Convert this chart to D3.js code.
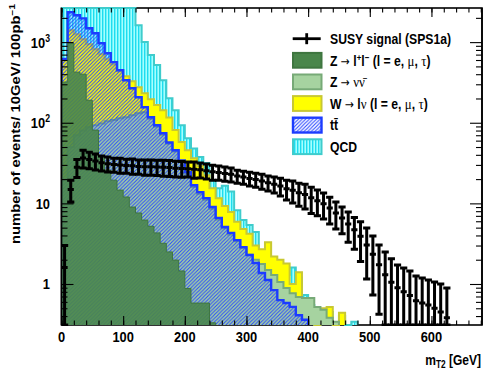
<!DOCTYPE html>
<html>
<head>
<meta charset="utf-8">
<script src="https://cdn.jsdelivr.net/npm/d3@7"></script>
<style>
  body { margin: 0; background: #fff; }
  svg { display: block; }
</style>
</head>
<body>
<svg id="chart" width="483" height="369"></svg>
<script>
// mT2 histograms, 10 GeV bins starting at 0
const binWidth = 10;

const qcd = [9000, 8500, 8000, 7500, 7000, 6500, 6000, 5200, 4600, 4000, 3500, 3000,
  1620, 1000, 690, 520, 337, 202, 143, 93, 64, 48, 37.5, 31.6, 19.4, 15.4, 16.5, 14, 8.2, 6.2,
  5.4, 4.4, 2.6, 2.2, 1.8, 1.6, 1.3, 1.6, 1.2, 0.73, 0.55, 0, 0.4, 0.45, 0, 0.4, 0, 0.34];

const wlnu = [600, 1403, 1253, 1086, 942, 817, 708, 614, 532, 436, 377, 328, 275, 233, 195,
  166, 143, 116, 81, 57.5, 45.7, 36.4, 29, 22.4, 15.4, 11.6, 9.3, 7.8, 5.9, 4.8, 4.2, 3.0, 2.7,
  3.3, 2.2, 2.0, 1.8, 1.0, 1.4, 0.58, 0.5, 0, 0.5, 0.52, 0, 0.44];

const znunu = [20, 50, 70, 80, 88, 93, 98, 104, 108, 114, 117, 124, 131, 135, 112, 89, 71, 55,
  44, 33, 23.5, 16, 13.2, 11.1, 8.6, 6.3, 4.9, 4.1, 3.4, 2.8, 2.3, 2.0, 1.77, 1.49, 1.29, 1.06,
  0.89, 0.77, 0.69, 0.67, 0.67, 0.52, 0.48, 0.38, 0.34];

const ttbar = [620, 2345, 2150, 1970, 1486, 1290, 967, 728, 565, 448, 337, 268, 207, 156, 117,
  93, 74, 57, 45.6, 34, 24.5, 16.8, 13.8, 11.6, 9.0, 6.6, 5.1, 4.3, 3.5, 2.87, 2.29, 1.82, 1.37,
  1.12, 0.84, 0.63, 0.58, 0.52, 0.41, 0.36];

const zll = [320, 970, 424, 400, 190, 81, 37.5, 25.9, 19.4, 14.6, 12, 9.0, 7.6, 6.2, 5.2, 4.3,
  3.2, 2.5, 1.98, 1.45, 0.88, 0.58, 0.58, 0.58, 0.33];

const susy = [1.6, 14.9, 28, 36.5, 35, 33.5, 32, 31, 30.4, 30, 29.5, 29.2, 28.7, 28.4, 28.4,
  28.2, 28, 27.8, 27.3, 27.1, 26.9, 26.5, 26.1, 25.4, 24.6, 24.2, 23.5, 22.9, 21.8, 21.2, 20.4,
  19.8, 19, 18, 17.3, 16.4, 15.2, 14.5, 13.5, 12.9, 11.7, 10.8, 9.9, 8.75, 7.6, 6.6, 5.55, 4.7,
  3.9, 3.05, 2.33, 1.73, 1.3, 1.05, 0.9, 0.8, 0.72, 0.62, 0.58, 0.55, 0.5, 0.45, 0.38];

const susyErr = [1.4, 4.5, 7, 9, 8.2, 7.5, 6.8, 6.5, 6.0, 6.3, 5.8, 6.2, 5.7, 6.0, 6.0, 6.1,
  6.3, 6.2, 6.1, 6.0, 5.6, 6.0, 5.5, 5.4, 5.2, 4.8, 4.7, 4.5, 4.0, 3.9, 4.0, 3.9, 4.0, 3.8, 3.9,
  4.1, 4.2, 4.4, 4.3, 4.4, 4.2, 3.8, 3.5, 3.2, 2.8, 2.4, 2.25, 2.0, 2.0, 1.9, 1.6, 1.31, 1.2,
  1.0, 0.82, 0.78, 0.73, 0.64, 0.61, 0.57, 0.56, 0.55, 0.51];

const xTicksMajor = [0, 100, 200, 300, 400, 500, 600];
const xTicksMinor = d3.range(0, 681, 20);
const yTicksMajor = [1, 10, 100, 1000];
const yTickBase = ["1", "10", "10", "10"];
const yTickExp = ["", "", "2", "3"];
const yTicksMinor = [0.4, 0.5, 0.6, 0.7, 0.8, 0.9, 2, 3, 4, 5, 6, 7, 8, 9,
  20, 30, 40, 50, 60, 70, 80, 90, 200, 300, 400, 500, 600, 700, 800, 900, 2000];

const svg = d3.select("#chart");
const frame = { left: 61.5, right: 482, top: 8, bottom: 325 };
const squeeze = "scale(0.83,1)";
const font = "'Liberation Sans', Arial, sans-serif";
const greekFont = "'Liberation Serif', 'DejaVu Serif', serif";
const arrowFont = "'DejaVu Sans', sans-serif";

const x = d3.scaleLinear().domain([0, 682]).range([frame.left, frame.right]);
const y = d3.scaleLog().domain([0.31, 2650]).range([frame.bottom, frame.top]).clamp(true);
const yv = v => (v > 0 ? y(v) : frame.bottom);

// patterns
const defs = svg.append("defs");
defs.append("clipPath").attr("id", "plotClip")
  .append("rect")
  .attr("x", frame.left).attr("y", frame.top - 1)
  .attr("width", frame.right - frame.left).attr("height", frame.bottom - frame.top + 2);

const pq = defs.append("pattern").attr("id", "pQCD")
  .attr("patternUnits", "userSpaceOnUse").attr("width", 3).attr("height", 10);
pq.append("rect").attr("width", 3).attr("height", 10).attr("fill", "#a4ffff");
pq.append("rect").attr("width", 1.4).attr("height", 10).attr("fill", "#1edcef");

const pt = defs.append("pattern").attr("id", "pTT")
  .attr("patternUnits", "userSpaceOnUse").attr("width", 3.6).attr("height", 3.6);
pt.append("path")
  .attr("d", "M-0.9,0.9L0.9,-0.9M0,3.6L3.6,0M2.7,4.5L4.5,2.7")
  .attr("stroke", "#2a48ff").attr("stroke-width", 1.1);

const styles = {
  qcd:   { fill: "url(#pQCD)", stroke: "#3fcccc", width: 2 },
  wlnu:  { fill: "#ffff00", stroke: "#c8c832", width: 2 },
  znunu: { fill: "#a6d3a0", stroke: "#77aa77", width: 2 },
  ttbar: { fill: "url(#pTT)", stroke: "#1c3cff", width: 2.4 },
  zll:   { fill: "#4a864b", stroke: "#3f7640", width: 1, opacity: 0.9 }
};

// frame background
svg.append("rect")
  .attr("x", frame.left).attr("y", frame.top)
  .attr("width", frame.right - frame.left).attr("height", frame.bottom - frame.top)
  .attr("fill", "#fff").attr("stroke", "#000").attr("stroke-width", 1.6);

function stepPath(vals) {
  let last = vals.length - 1;
  while (last > 0 && !(vals[last] > 0)) last--;
  const pts = [[x(0), frame.bottom]];
  for (let i = 0; i <= last; i++) {
    const yy = yv(vals[i]);
    pts.push([x(i * binWidth), yy], [x((i + 1) * binWidth), yy]);
  }
  pts.push([x((last + 1) * binWidth), frame.bottom]);
  return d3.line()(pts);
}

const plot = svg.append("g").attr("clip-path", "url(#plotClip)");

[["qcd", qcd], ["wlnu", wlnu], ["znunu", znunu], ["ttbar", ttbar], ["zll", zll]]
  .forEach(([key, vals]) => {
    const s = styles[key];
    plot.append("path")
      .attr("d", stepPath(vals))
      .attr("fill", s.fill)
      .attr("fill-opacity", s.opacity || 1)
      .attr("stroke", s.stroke)
      .attr("stroke-width", s.width)
      .attr("stroke-linejoin", "miter");
  });

// SUSY signal with error bars
const capHalf = 3.6;
const sig = plot.append("g").attr("stroke", "#000").attr("stroke-width", 3);
susy.forEach((v, i) => {
  const e = susyErr[i];
  const cx = x(i * binWidth + binWidth / 2);
  const yc = yv(v), yt = yv(v + e), yb = yv(v - e);
  sig.append("line").attr("x1", x(i * binWidth)).attr("x2", x((i + 1) * binWidth))
    .attr("y1", yc).attr("y2", yc);
  sig.append("line").attr("x1", cx).attr("x2", cx).attr("y1", yt).attr("y2", yb);
  sig.append("line").attr("x1", cx - capHalf).attr("x2", cx + capHalf).attr("y1", yt).attr("y2", yt);
  sig.append("line").attr("x1", cx - capHalf).attr("x2", cx + capHalf).attr("y1", yb).attr("y2", yb);
});

// ticks (inside the frame, on all four sides)
function tickGroup(axis, tx, ty) {
  const g = svg.append("g").attr("transform", `translate(${tx},${ty})`).call(axis);
  g.select(".domain").remove();
  g.selectAll("line").attr("stroke", "#000").attr("stroke-width", 1.1);
  g.selectAll("text").remove();
}
tickGroup(d3.axisBottom(x).tickValues(xTicksMinor).tickSize(-4.5), 0, frame.bottom);
tickGroup(d3.axisBottom(x).tickValues(xTicksMajor).tickSize(-9), 0, frame.bottom);
tickGroup(d3.axisTop(x).tickValues(xTicksMinor).tickSize(-4.5), 0, frame.top);
tickGroup(d3.axisTop(x).tickValues(xTicksMajor).tickSize(-9), 0, frame.top);
tickGroup(d3.axisLeft(y).tickValues(yTicksMinor).tickSize(-6), frame.left, 0);
tickGroup(d3.axisLeft(y).tickValues(yTicksMajor).tickSize(-12), frame.left, 0);
tickGroup(d3.axisRight(y).tickValues(yTicksMinor).tickSize(-6), frame.right, 0);
tickGroup(d3.axisRight(y).tickValues(yTicksMajor).tickSize(-12), frame.right, 0);

// redraw side frame lines on top of the fills
svg.append("line").attr("x1", frame.left).attr("x2", frame.left)
  .attr("y1", frame.top).attr("y2", frame.bottom).attr("stroke", "#000").attr("stroke-width", 1.6);
svg.append("line").attr("x1", frame.right).attr("x2", frame.right)
  .attr("y1", frame.top).attr("y2", frame.bottom).attr("stroke", "#000").attr("stroke-width", 1.6);

// tick labels
xTicksMajor.forEach(t => {
  svg.append("g").attr("transform", `translate(${x(t)},342) ${squeeze}`)
    .append("text").attr("text-anchor", "middle")
    .attr("font-family", font).attr("font-weight", "bold").attr("font-size", 15.5)
    .text(t);
});
yTicksMajor.forEach((t, i) => {
  const txt = svg.append("g").attr("transform", `translate(50,${y(t) + 5.5}) ${squeeze}`)
    .append("text").attr("text-anchor", "end")
    .attr("font-family", font).attr("font-weight", "bold").attr("font-size", 15.5);
  txt.append("tspan").text(yTickBase[i]);
  if (yTickExp[i]) {
    txt.append("tspan").attr("dy", -6).attr("font-size", 10.5).text(yTickExp[i]);
  }
});

// axis titles
const xt = svg.append("g").attr("transform", `translate(481,365) ${squeeze}`)
  .append("text").attr("text-anchor", "end")
  .attr("font-family", font).attr("font-weight", "bold").attr("font-size", 14.5);
xt.append("tspan").text("m");
xt.append("tspan").attr("dy", 3).attr("font-size", 10).text("T2");
xt.append("tspan").attr("dy", -3).text(" [GeV]");

const yt = svg.append("g").attr("transform", `translate(20,4) ${squeeze} rotate(-90)`)
  .append("text").attr("text-anchor", "end")
  .attr("font-family", font).attr("font-weight", "bold").attr("font-size", 14.8);
yt.append("tspan").text("number of events/ 10GeV/ 100pb");
yt.append("tspan").attr("dy", -6).attr("font-size", 10).text("\u22121");

// legend
const legendRows = [
  { key: "susy", parts: [["SUSY signal (SPS1a)"]] },
  { key: "zll", parts: [["Z "], ["\u2192", "a"], [" l"], ["+", "sup"], ["l"], ["\u2212", "sup"],
      [" (l = e, "], ["\u03bc", "g"], [", "], ["\u03c4", "g"], [")"]] },
  { key: "znunu", parts: [["Z "], ["\u2192", "a"], [" "], ["\u03bd\u03bd\u0304", "g"]] },
  { key: "wlnu", parts: [["W "], ["\u2192", "a"], [" l"], ["\u03bd", "g"], [" (l = e, "],
      ["\u03bc", "g"], [", "], ["\u03c4", "g"], [")"]] },
  { key: "ttbar", parts: [["tt\u0304"]] },
  { key: "qcd", parts: [["QCD"]] }
];

legendRows.forEach((row, k) => {
  const cy = 38.7 + 21.6 * k;
  if (row.key === "susy") {
    svg.append("line").attr("x1", 292.7).attr("x2", 320.7).attr("y1", cy).attr("y2", cy)
      .attr("stroke", "#000").attr("stroke-width", 2.8);
    svg.append("line").attr("x1", 306.7).attr("x2", 306.7).attr("y1", cy - 5.5).attr("y2", cy + 5.5)
      .attr("stroke", "#000").attr("stroke-width", 2.8);
  } else {
    const s = styles[row.key];
    svg.append("rect").attr("x", 293).attr("y", cy - 7.4).attr("width", 28.5).attr("height", 14.8)
      .attr("fill", s.fill).attr("stroke", s.stroke).attr("stroke-width", Math.max(s.width, 2));
  }
  const txt = svg.append("g").attr("transform", `translate(330,${cy + 5.3}) ${squeeze}`)
    .append("text").attr("font-family", font).attr("font-weight", "bold").attr("font-size", 14.7);
  let raised = false;
  row.parts.forEach(([t, kind]) => {
    const ts = txt.append("tspan").text(t);
    if (kind === "sup") {
      ts.attr("dy", -5).attr("font-size", 9.5);
      raised = true;
    } else if (raised) {
      ts.attr("dy", 5);
      raised = false;
    }
    if (kind === "g") ts.attr("font-family", greekFont).attr("font-weight", "normal").attr("font-size", 15.5);
    if (kind === "a") ts.attr("font-family", arrowFont).attr("font-weight", "normal").attr("font-size", 13);
  });
});
</script>
</body>
</html>
